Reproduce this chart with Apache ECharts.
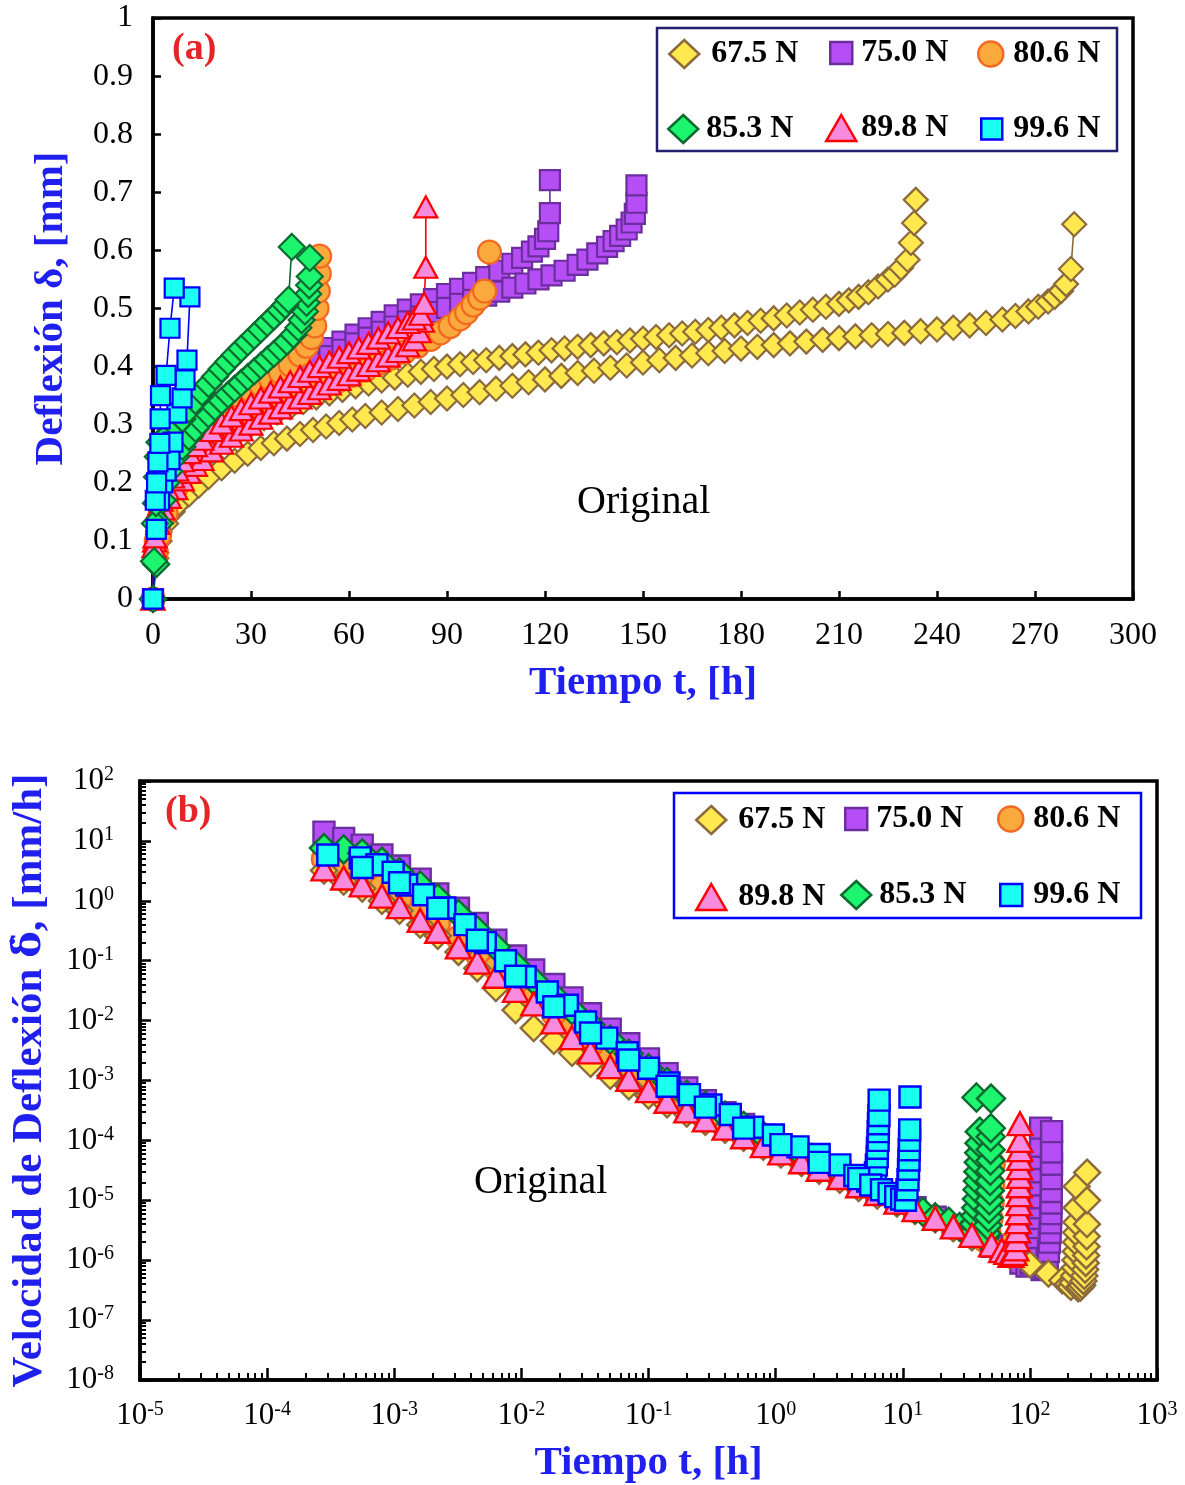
<!DOCTYPE html>
<html><head><meta charset="utf-8">
<script src="https://cdn.jsdelivr.net/npm/echarts@6/dist/echarts.min.js"></script>
<style>html,body{margin:0;padding:0;background:#fff}#c{width:1185px;height:1485px}</style>
</head><body><div id="c"></div>
<script>
// ---------- DATA: panel (a) deflexión vs tiempo  [t (h), δ (mm)] ----------
const a675_1 = [[0,0],[1,0.08],[2,0.115],[4,0.15],[6,0.175],[10,0.21],[14,0.235],[18,0.255],[22,0.272],[26,0.287],[30,0.3],[34,0.311],[38,0.321],[42,0.33],[46,0.339],[50,0.347],[54,0.354],[58,0.36],[62,0.366],[66,0.371],[70,0.376],[74,0.381],[78,0.386],[82,0.391],[86,0.396],[90,0.4],[94,0.404],[98,0.408],[102,0.411],[106,0.415],[110,0.418],[114,0.421],[118,0.424],[122,0.428],[126,0.431],[130,0.434],[134,0.437],[138,0.44],[142,0.442],[146,0.445],[150,0.448],[154,0.451],[158,0.454],[162,0.457],[166,0.46],[170,0.463],[174,0.467],[178,0.471],[182,0.475],[186,0.479],[190,0.483],[194,0.488],[198,0.493],[202,0.498],[206,0.503],[210,0.508],[213,0.514],[216,0.52],[219,0.528],[222,0.538],[225,0.55],[227,0.558],[229,0.57],[231,0.584],[232,0.613],[233,0.647],[233.5,0.687]];
const a675_2 = [[0,0],[1,0.07],[2,0.1],[4,0.13],[6,0.15],[8,0.165],[11,0.18],[14,0.195],[17,0.21],[21,0.225],[25,0.238],[29,0.25],[33,0.26],[37,0.268],[41,0.276],[45,0.284],[49,0.291],[53,0.297],[57,0.303],[61,0.309],[65,0.315],[70,0.321],[75,0.327],[80,0.333],[85,0.339],[90,0.345],[95,0.351],[100,0.356],[105,0.362],[110,0.367],[115,0.373],[120,0.378],[125,0.384],[130,0.389],[135,0.393],[140,0.398],[145,0.402],[150,0.407],[155,0.411],[160,0.415],[165,0.419],[170,0.423],[175,0.427],[180,0.431],[185,0.434],[190,0.437],[195,0.44],[200,0.443],[205,0.446],[210,0.449],[215,0.452],[220,0.454],[225,0.456],[230,0.458],[235,0.461],[240,0.464],[245,0.467],[250,0.471],[255,0.475],[260,0.481],[264,0.487],[268,0.495],[271,0.503],[274,0.512],[276,0.52],[278,0.53],[279.5,0.542],[281,0.568],[282,0.645]];
const a750_1 = [[0,0],[1,0.1],[2,0.13],[4,0.17],[6,0.2],[9,0.23],[12,0.255],[15,0.275],[18,0.295],[22,0.318],[26,0.337],[30,0.353],[34,0.368],[38,0.382],[42,0.395],[46,0.408],[50,0.42],[54,0.432],[58,0.443],[62,0.455],[66,0.466],[70,0.477],[74,0.488],[78,0.498],[82,0.507],[86,0.516],[90,0.525],[94,0.534],[98,0.544],[102,0.554],[106,0.565],[110,0.577],[113,0.587],[116,0.598],[118,0.607],[120,0.62],[121,0.633],[121.5,0.664],[121.5,0.721]];
const a750_2 = [[0,0],[1,0.09],[2,0.12],[4,0.16],[6,0.19],[9,0.22],[12,0.245],[15,0.265],[18,0.285],[22,0.307],[26,0.326],[30,0.342],[34,0.357],[38,0.371],[42,0.384],[46,0.396],[50,0.407],[54,0.418],[58,0.429],[62,0.44],[66,0.45],[70,0.46],[74,0.469],[78,0.478],[82,0.486],[86,0.494],[90,0.501],[94,0.508],[98,0.515],[102,0.522],[106,0.529],[110,0.536],[114,0.543],[118,0.55],[122,0.557],[126,0.565],[130,0.575],[133,0.584],[136,0.595],[139,0.606],[141,0.616],[143,0.625],[145,0.636],[146.5,0.648],[147.5,0.663],[148,0.682],[148,0.712]];
const a806_1 = [[0,0],[1,0.1],[2,0.14],[4,0.2],[6,0.23],[9,0.26],[12,0.282],[15,0.298],[18,0.312],[21,0.325],[24,0.337],[27,0.348],[30,0.358],[33,0.368],[36,0.378],[39,0.39],[42,0.403],[45,0.42],[47,0.435],[48.5,0.45],[49.5,0.47],[50.2,0.5],[50.6,0.53],[50.9,0.56],[51,0.59]];
const a806_2 = [[0,0],[1,0.08],[2,0.11],[4,0.148],[7,0.19],[10,0.215],[13.5,0.238],[17,0.258],[21,0.278],[25,0.292],[29,0.304],[33,0.315],[37,0.326],[41,0.338],[45,0.35],[49,0.36],[53,0.368],[57,0.376],[61,0.385],[65,0.394],[69,0.405],[73,0.415],[77,0.425],[81,0.435],[85,0.447],[88,0.458],[91,0.469],[94,0.482],[96,0.493],[98,0.506],[100,0.518],[101.5,0.53],[103,0.597]];
const a853_1 = [[0,0],[0.3,0.065],[0.6,0.13],[0.9,0.165],[1.2,0.21],[1.5,0.245],[2,0.27],[3,0.275],[5,0.285],[7,0.298],[9,0.31],[11,0.326],[13,0.341],[15,0.356],[17,0.37],[19,0.383],[21,0.396],[23,0.408],[25,0.42],[27,0.431],[29,0.442],[31,0.453],[33,0.464],[35,0.475],[37,0.486],[39,0.497],[40.5,0.506],[41.5,0.515],[42.5,0.606]];
const a853_2 = [[0,0],[1,0.06],[2,0.13],[3,0.17],[4,0.2],[5,0.22],[7,0.245],[9,0.262],[11,0.279],[13,0.293],[15,0.306],[17,0.318],[19,0.33],[21,0.341],[23,0.352],[25,0.362],[27,0.372],[29,0.382],[31,0.392],[33,0.402],[35,0.412],[37,0.422],[39,0.432],[41,0.443],[43,0.455],[44.5,0.467],[45.5,0.48],[46.5,0.495],[47,0.51],[47.5,0.525],[47.8,0.54],[48,0.555],[48,0.587]];
const a898_1 = [[0,0],[0.3,0.09],[0.6,0.107],[1.2,0.153],[2.5,0.17],[4.3,0.19],[6,0.21],[7.3,0.222],[9,0.238],[11,0.252],[13,0.264],[15,0.275],[18,0.29],[21,0.303],[24,0.315],[27,0.326],[30,0.336],[33,0.346],[36,0.356],[39,0.365],[42,0.374],[45,0.383],[48,0.392],[51,0.4],[54,0.408],[57,0.416],[60,0.424],[63,0.432],[66,0.44],[69,0.449],[72,0.458],[75,0.467],[78,0.476],[80,0.482],[82,0.49],[83,0.509],[83.5,0.571],[83.5,0.675]];
const a898_2 = [[0,0],[0.5,0.1],[1.5,0.13],[3,0.155],[5,0.175],[7,0.19],[9,0.205],[11,0.218],[13,0.23],[15,0.24],[18,0.255],[21,0.268],[24,0.28],[27,0.291],[30,0.301],[33,0.311],[36,0.32],[39,0.329],[42,0.338],[45,0.346],[48,0.354],[51,0.362],[54,0.37],[57,0.378],[60,0.386],[63,0.394],[66,0.402],[69,0.41],[72,0.418],[75,0.426],[78,0.436],[80,0.446],[81.5,0.46],[82.5,0.478]];
const a996_1 = [[0,0],[0.7,0.17],[1.1,0.2],[1.5,0.236],[2.1,0.268],[2.2,0.31],[2.3,0.35],[4.0,0.385],[5.2,0.466],[6.5,0.535]];
const a996_2 = [[0,0],[1,0.12],[2,0.17],[3,0.2],[4,0.22],[5.2,0.24],[6.1,0.27],[7.3,0.32],[8.9,0.346],[9.8,0.377],[10.4,0.411],[11.3,0.52]];

// ---------- DATA: panel (b) velocidad de deflexión vs tiempo [t (h), v (mm/h)] ----------
const b675 = [[2.8e-4,3.2],[4e-4,2.1],[5.6e-4,1.6],[8e-4,1.0],[1.1e-3,0.68],[1.6e-3,0.4],[2.2e-3,0.26],[3.2e-3,0.14],[4.5e-3,0.075],[6.3e-3,0.035],[9e-3,0.015],[0.0125,0.0075],[0.018,0.0046],[0.025,0.0029],[0.035,0.0019],[0.05,0.0012],[0.07,8e-4],[0.1,5.6e-4],[0.14,4e-4],[0.2,2.8e-4],[0.28,2.05e-4],[0.4,1.5e-4],[0.56,1.1e-4],[0.8,7.8e-5],[1.1,5.8e-5],[1.6,4.2e-5],[2.2,3.1e-5],[3.2,2.2e-5],[4.5,1.6e-5],[6.3,1.2e-5],[9,8.8e-6],[12.5,6.6e-6],[18,4.8e-6],[25,3.4e-6],[35,2.4e-6],[50,1.7e-6],[70,1.2e-6],[100,8.5e-7],[140,6e-7],[180,4.6e-7],
  [200,4e-7],[210,3.6e-7],[218,4.2e-7],[223,5.5e-7],[226,7.5e-7],[228,1e-6],[229.5,1.4e-6],[230.5,2e-6],[231.5,2.9e-6],[232.3,4.3e-6],[233,7.5e-6],[233.5,1.7e-5],
  [240,3.4e-7],[250,3.5e-7],[258,3.8e-7],[264,4.5e-7],[268,5.5e-7],[272,7e-7],[275,9e-7],[277,1.2e-6],[279,1.7e-6],[280,2.5e-6],[281,4e-6],[281.5,1e-5],[282,2.9e-5]];
const b750 = [[2.8e-4,14],[4e-4,11],[5.6e-4,8.5],[8e-4,5.8],[1.1e-3,3.8],[1.6e-3,2.3],[2.2e-3,1.3],[3.2e-3,0.75],[4.5e-3,0.42],[6.3e-3,0.22],[9e-3,0.12],[0.0125,0.07],[0.018,0.04],[0.025,0.024],[0.035,0.013],[0.05,0.0072],[0.07,0.0041],[0.1,0.0023],[0.14,0.0013],[0.2,7.5e-4],[0.28,4.6e-4],[0.4,2.9e-4],[0.56,1.85e-4],[0.8,1.22e-4],[1.1,8.5e-5],[1.6,5.8e-5],[2.2,4.2e-5],[3.2,3e-5],[4.5,2.1e-5],[6.3,1.5e-5],[9,1.05e-5],[12.5,7.5e-6],[18,5.2e-6],[25,3.6e-6],[35,2.5e-6],[50,1.7e-6],[70,1.2e-6],
  [85,9e-7],[95,8e-7],[102,9e-7],[107,1.2e-6],[111,1.7e-6],[114,2.4e-6],[116.5,3.5e-6],[118,5e-6],[119.3,7.5e-6],[120.2,1.1e-5],[120.8,1.8e-5],[121.1,3e-5],[121.3,5e-5],[121.4,8e-5],[121.5,1.6e-4],
  [125,7e-7],[132,7.5e-7],[137,1e-6],[140,1.4e-6],[142.5,2e-6],[144.3,2.9e-6],[145.5,4.2e-6],[146.4,6e-6],[147,9e-6],[147.4,1.4e-5],[147.7,2.3e-5],[147.9,4e-5],[148,6.4e-5],[148.2,1.4e-4]];
const b806 = [[2.8e-4,5],[4e-4,3.5],[5.6e-4,2.6],[8e-4,1.7],[1.1e-3,1.1],[1.6e-3,0.65],[2.2e-3,0.42],[3.2e-3,0.24],[4.5e-3,0.13],[6.3e-3,0.075],[9e-3,0.042],[0.0125,0.024],[0.018,0.013],[0.025,0.0072],[0.035,0.0041],[0.05,0.0023],[0.07,0.0014],[0.1,8.5e-4],[0.14,5.4e-4],[0.2,3.5e-4],[0.28,2.4e-4],[0.4,1.7e-4],[0.56,1.2e-4],[0.8,8.5e-5],[1.1,6.3e-5],[1.6,4.5e-5],[2.2,3.3e-5],[3.2,2.4e-5],[4.5,1.75e-5],[6.3,1.3e-5],[9,9.3e-6],[12.5,6.9e-6],[18,5e-6],[25,3.6e-6],[35,2.6e-6],
  [44,2.2e-6],[47,3e-6],[49,5e-6],[50,9e-6],[50.6,1.8e-5],[51,4e-5],
  [60,1.7e-6],[70,1.4e-6],[85,1.1e-6],[92,1.2e-6],[97,1.6e-6],[100,2.4e-6],[101.5,4e-6],[102.5,7e-6],[103,1.5e-5]];
const b853 = [[2.8e-4,7.6],[4e-4,7.2],[5.6e-4,6.2],[8e-4,4.5],[1.1e-3,3.0],[1.6e-3,1.8],[2.2e-3,1.1],[3.2e-3,0.6],[4.5e-3,0.32],[6.3e-3,0.17],[9e-3,0.085],[0.0125,0.047],[0.018,0.026],[0.025,0.015],[0.035,0.0085],[0.05,0.0048],[0.07,0.0028],[0.1,0.0016],[0.14,9.5e-4],[0.2,5.8e-4],[0.28,3.8e-4],[0.4,2.6e-4],[0.56,1.75e-4],[0.8,1.2e-4],[1.1,8.5e-5],[1.6,5.8e-5],[2.2,4.2e-5],[3.2,2.9e-5],[4.5,2.1e-5],[6.3,1.5e-5],[9,1.0e-5],[12.5,7.2e-6],[14.4,6.4e-6],[18,5.2e-6],[23,4.4e-6],[28,3.6e-6],[32,3.1e-6],
  [34,2.9e-6],[35.6,2.8e-6],[36.5,4e-6],[37.2,5.5e-6],[37.8,7.5e-6],[38.3,1.05e-5],[38.7,1.5e-5],[39,2.1e-5],[39.3,3e-5],[39.6,4.3e-5],[39.9,6.2e-5],[40.1,9e-5],[40.3,1.4e-4],[38,5.2e-4],
  [42,2.6e-6],[44,2.4e-6],[45.5,2.8e-6],[46.5,3.8e-6],[47.2,5.2e-6],[47.7,7.2e-6],[48.1,1e-5],[48.4,1.45e-5],[48.6,2.1e-5],[48.8,3.1e-5],[49,4.6e-5],[49.1,7e-5],[49.2,1.15e-4],[49.3,1.6e-4],[49.5,5e-4]];
const b898 = [[2.8e-4,3.4],[4e-4,2.4],[5.6e-4,1.85],[8e-4,1.2],[1.1e-3,0.8],[1.6e-3,0.47],[2.2e-3,0.31],[3.2e-3,0.17],[4.5e-3,0.095],[6.3e-3,0.055],[9e-3,0.032],[0.0125,0.019],[0.018,0.0095],[0.025,0.0052],[0.035,0.003],[0.05,0.0017],[0.07,0.00105],[0.1,6.8e-4],[0.14,4.5e-4],[0.2,3.1e-4],[0.28,2.2e-4],[0.4,1.6e-4],[0.56,1.15e-4],[0.8,8.2e-5],[1.1,6.2e-5],[1.6,4.4e-5],[2.2,3.3e-5],[3.2,2.4e-5],[4.5,1.75e-5],[6.3,1.3e-5],[9,9.3e-6],[12.5,7e-6],[18,5e-6],[25,3.6e-6],[35,2.6e-6],[50,1.8e-6],[60,1.45e-6],
  [66,1.35e-6],[71,1.2e-6],[75,1.3e-6],[77.5,1.55e-6],[79,2.2e-6],[80,3.1e-6],[80.8,4.4e-6],[81.4,6.2e-6],[81.9,8.8e-6],[82.3,1.24e-5],[82.6,1.75e-5],[82.9,2.5e-5],[83.1,3.5e-5],[83.3,5e-5],[83.4,7e-5],[83.5,1e-4],[83.6,1.9e-4]];
const b996 = [[3.0e-4,5.8],[5.4e-4,5.2],[7.3e-4,4.0],[9.8e-4,3.0],[1.25e-3,1.84],[1.7e-3,1.26],[2.5e-3,0.76],[3.6e-3,0.4],[5.2e-3,0.2],[7.5e-3,0.1],[0.0107,0.054],[0.016,0.03],[0.023,0.018],[0.032,0.0095],[0.047,0.0051],[0.068,0.0029],[0.1,0.0016],[0.145,9.1e-4],[0.21,5.8e-4],[0.31,3.9e-4],[0.44,2.7e-4],[0.66,1.66e-4],[0.96,1.23e-4],[1.5,7.8e-5],[2.2,5.8e-5],[3.2,3.9e-5],[4.2,2.6e-5],[5.3,2.1e-5],
  [6.0,2e-5],[6.1,2.9e-5],[6.2,3.9e-5],[6.3,5.3e-5],[6.32,7.4e-5],[6.4,1.0e-4],[6.42,1.4e-4],[6.44,1.9e-4],[6.5,2.6e-4],[6.52,4.7e-4],
  [5.6e-4,3.6],[1.1e-3,2.0],[2.2e-3,0.75],[4.5e-3,0.22],[9e-3,0.055],[0.018,0.017],[0.035,0.0062],[0.07,0.0022],[0.14,8e-4],[0.28,3.6e-4],[0.56,1.6e-4],[1.1,8.5e-5],[2.2,4.3e-5],
  [4.5,2.3e-5],[5.6,1.8e-5],[6.8,1.5e-5],[7.8,1.3e-5],[8.8,1.15e-5],[9.8,1.05e-5],
  [10.5,1e-5],[10.8,1.5e-5],[11,2.2e-5],[11.1,3.3e-5],[11.2,4.7e-5],[11.25,7e-5],[11.3,1e-4],[11.35,1.5e-4],[11.4,5.3e-4]];

// ---------- tick / category labels ----------
const loads = ['67.5 N','75.0 N','80.6 N','85.3 N','89.8 N','99.6 N'];
const xExpB = [-5,-4,-3,-2,-1,0,1,2,3];
const yExpB = [-8,-7,-6,-5,-4,-3,-2,-1,0,1,2];

// ---------- styling ----------
const FONT = "'Liberation Serif','Times New Roman',serif";
const BLUE = '#1F1FEE';
const S = {
  '67.5 N': {fill:'#FFE94F', stroke:'#8C6A3C', sym:'diamond', sa:[24,24], sb:[26,26]},
  '75.0 N': {fill:'#B64EF5', stroke:'#6C2E9E', sym:'rect', sa:[20,20], sb:[21,21]},
  '80.6 N': {fill:'#FAAA3C', stroke:'#F26A21', sym:'circle', sa:[23,23], sb:[24,24]},
  '85.3 N': {fill:'#1CF56D', stroke:'#0D6A30', sym:'diamond', sa:[26,26], sb:[28,28]},
  '89.8 N': {fill:'#F98BDF', stroke:'#FF0000', sym:'triangle', sa:[23,21], sb:[25,23]},
  '99.6 N': {fill:'#1AFFF0', stroke:'#0000FF', sym:'rect', sa:[19,19], sb:[21,21]}
};

function lineSeries(name, data) {
  const s = S[name];
  return {type:'line', name, data, xAxisIndex:0, yAxisIndex:0, symbol:s.sym, symbolSize:s.sa, showAllSymbol:true,
    clip:false, lineStyle:{color:s.stroke, width:1.6}, itemStyle:{color:s.fill, borderColor:s.stroke, borderWidth:2.2},
    emphasis:{disabled:true}, animation:false};
}
function scatterSeries(name, data) {
  const s = S[name];
  return {type:'scatter', name, data, xAxisIndex:1, yAxisIndex:1, symbol:s.sym, symbolSize:s.sb,
    itemStyle:{color:s.fill, borderColor:s.stroke, borderWidth:2.4, opacity:1}, emphasis:{disabled:true}, animation:false};
}

const seriesA = [
  lineSeries('67.5 N', a675_1), lineSeries('67.5 N', a675_2),
  lineSeries('75.0 N', a750_1), lineSeries('75.0 N', a750_2),
  lineSeries('80.6 N', a806_1), lineSeries('80.6 N', a806_2),
  lineSeries('89.8 N', a898_2), lineSeries('89.8 N', a898_1),
  lineSeries('85.3 N', a853_2), lineSeries('85.3 N', a853_1),
  lineSeries('99.6 N', a996_2), lineSeries('99.6 N', a996_1)
];
const seriesB = [
  scatterSeries('80.6 N', b806), scatterSeries('75.0 N', b750), scatterSeries('67.5 N', b675),
  scatterSeries('85.3 N', b853), scatterSeries('89.8 N', b898), scatterSeries('99.6 N', b996)
];

function mkLegend(name, left, cy, w, h, pad) {
  const s = S[name];
  return {show:true, left, top:cy-14, padding:0, itemWidth:w, itemHeight:h, selectedMode:false, z:10,
    data:[{name, icon:s.sym, itemStyle:{color:s.fill, borderColor:s.stroke, borderWidth:2.5}}],
    textStyle:{fontFamily:FONT, fontSize:32, fontWeight:'bold', color:'#000', padding:[0,0,0,pad]}};
}
const legends = [
  mkLegend(loads[0], 668, 52, 30, 28, 7), mkLegend(loads[1], 829, 51, 22, 22, 4), mkLegend(loads[2], 977, 52, 25, 25, 5),
  mkLegend(loads[3], 667, 127, 30, 28, 3), mkLegend(loads[4], 825, 126, 30, 26, 0), mkLegend(loads[5], 980, 127, 21, 21, 6),
  mkLegend(loads[0], 695, 818, 30, 28, 7), mkLegend(loads[1], 844, 817, 22, 22, 4), mkLegend(loads[2], 997, 817, 25, 25, 5),
  mkLegend(loads[4], 695, 895, 30, 26, 7), mkLegend(loads[3], 840, 893, 30, 28, 3), mkLegend(loads[5], 999, 893, 22, 22, 6)
];

const minorX = [], minorY = [];
xExpB.slice(0,-1).forEach(e => { for (let m=2;m<10;m++) minorX.push(e + Math.log10(m)); });
yExpB.slice(0,-1).forEach(e => { for (let m=2;m<10;m++) minorY.push(e + Math.log10(m)); });

const axLine = {show:true, onZero:false, lineStyle:{color:'#000', width:3.5}};
const noLine = {show:false, onZero:false};
const lab = {fontFamily:FONT, fontSize:32, color:'#000'};
const nameStyle = {fontFamily:FONT, fontSize:41, fontWeight:'bold', color:BLUE};
const nameStyleB = {fontFamily:FONT, fontSize:43, fontWeight:'bold', color:BLUE,
  rich:{d:{fontFamily:"'DejaVu Serif'", fontSize:40, fontWeight:'bold', color:BLUE}}};
const powRich = {b:{fontFamily:FONT, fontSize:31, color:'#000', lineHeight:32}, s:{fontFamily:FONT, fontSize:20, color:'#000', verticalAlign:'top', lineHeight:20}};
const powFmt = v => '{b|10}{s|' + Math.round(v) + '}';

const option = {
  animation:false,
  backgroundColor:'#fff',
  grid:[
    {left:153, top:18, width:980, height:581, show:true, borderColor:'#000', borderWidth:3.5, containLabel:false, outerBoundsMode:'none'},
    {left:140, top:781, width:1017, height:599, show:true, borderColor:'#000', borderWidth:3.5, containLabel:false, outerBoundsMode:'none'}
  ],
  xAxis:[
    {gridIndex:0, type:'value', min:0, max:300, interval:30, position:'bottom', axisLine:axLine,
     axisTick:{inside:true, length:8, lineStyle:{width:2.5, color:'#000'}}, splitLine:{show:false},
     axisLabel:Object.assign({margin:21}, lab), name:'Tiempo t, [h]', nameLocation:'middle', nameGap:64, nameTextStyle:nameStyle},
    {gridIndex:1, type:'log', logBase:10, min:1e-5, max:1e3, position:'bottom', axisLine:axLine,
     axisTick:{show:false}, axisLabel:{show:false}, splitLine:{show:false}, minorTick:{show:false}},
    {gridIndex:1, type:'value', min:-5, max:3, interval:1, position:'bottom', axisLine:noLine,
     axisTick:{inside:true, length:12, lineStyle:{width:2.5, color:'#000'}}, splitLine:{show:false},
     axisLabel:{margin:20, formatter:powFmt, rich:powRich}, name:'Tiempo t, [h]', nameLocation:'middle', nameGap:63, nameTextStyle:nameStyle},
    {gridIndex:1, type:'value', min:-5, max:3, position:'bottom', axisLine:noLine,
     axisTick:{inside:true, length:7, customValues:minorX, lineStyle:{width:2, color:'#000'}}, axisLabel:{show:false}, splitLine:{show:false}}
  ],
  yAxis:[
    {gridIndex:0, type:'value', min:0, max:1, interval:0.1, position:'left', axisLine:axLine,
     axisTick:{inside:true, length:8, lineStyle:{width:2.5, color:'#000'}}, splitLine:{show:false},
     axisLabel:Object.assign({margin:20}, lab), name:'Deflexión δ, [mm]', nameLocation:'middle', nameGap:81, nameTextStyle:nameStyle},
    {gridIndex:1, type:'log', logBase:10, min:1e-8, max:1e2, position:'left', axisLine:axLine,
     axisTick:{show:false}, axisLabel:{show:false}, splitLine:{show:false}, minorTick:{show:false}},
    {gridIndex:1, type:'value', min:-8, max:2, interval:1, position:'left', axisLine:noLine,
     axisTick:{inside:true, length:11, lineStyle:{width:2.5, color:'#000'}}, splitLine:{show:false},
     axisLabel:{margin:26, formatter:powFmt, rich:powRich}, name:'Velocidad de Deflexión {d|δ̇}, [mm/h]', nameLocation:'middle', nameGap:89, nameTextStyle:nameStyleB},
    {gridIndex:1, type:'value', min:-8, max:2, position:'left', axisLine:noLine,
     axisTick:{inside:true, length:6, customValues:minorY, lineStyle:{width:2, color:'#000'}}, axisLabel:{show:false}, splitLine:{show:false}}
  ],
  legend:legends,
  graphic:[
    {type:'rect', z:5, shape:{x:657, y:28, width:460, height:123}, style:{fill:'#fff', stroke:'#231F6E', lineWidth:2.5}},
    {type:'rect', z:5, shape:{x:674, y:793, width:467, height:125}, style:{fill:'#fff', stroke:'#0000FF', lineWidth:2.5}},
    {type:'text', z:6, left:172, top:30, style:{text:'(a)', font:'bold 38px ' + FONT, fill:'#E52528'}},
    {type:'text', z:6, left:165, top:793, style:{text:'(b)', font:'bold 38px ' + FONT, fill:'#E52528'}},
    {type:'text', z:6, left:577, top:482, style:{text:'Original', font:'40px ' + FONT, fill:'#000'}},
    {type:'text', z:6, left:474, top:1162, style:{text:'Original', font:'40px ' + FONT, fill:'#000'}}
  ],
  series:seriesA.concat(seriesB)
};
const chart = echarts.init(document.getElementById('c'), null, {renderer:'canvas'});
chart.setOption(option);
</script></body></html>
